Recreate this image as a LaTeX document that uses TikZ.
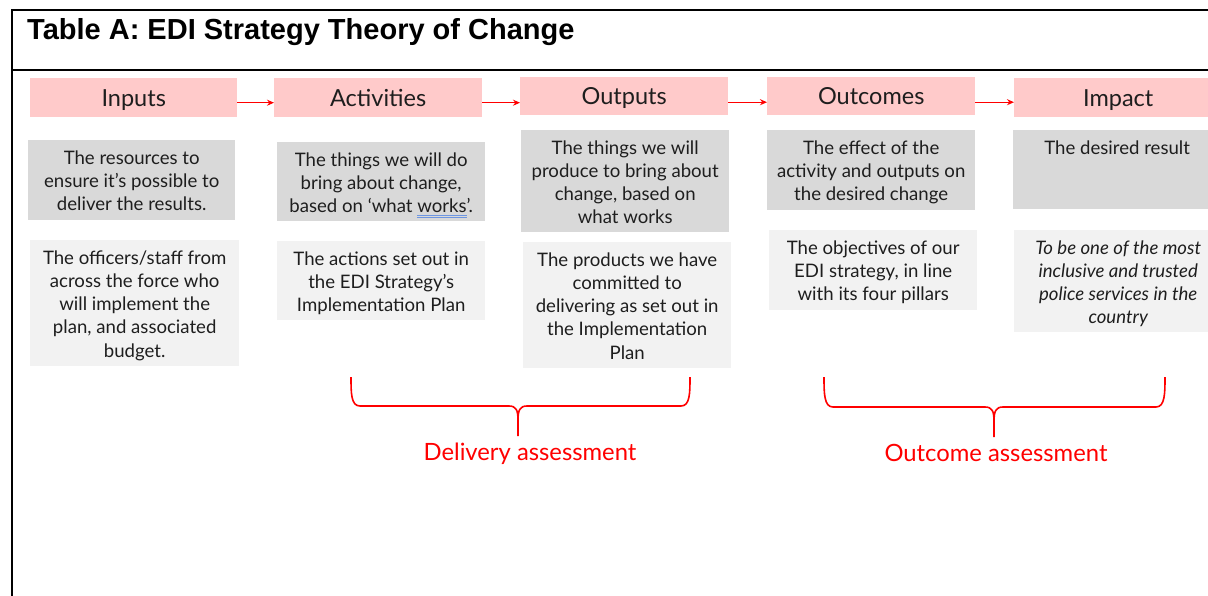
\documentclass[tikz,border=0pt]{standalone}
\usepackage{fontspec}
\setmainfont{Lato}
\newfontfamily\titlefont{Liberation Sans}
\usetikzlibrary{arrows.meta}

\definecolor{hdrpink}{RGB}{255,202,202}
\definecolor{darkcell}{RGB}{217,217,217}
\definecolor{lightcell}{RGB}{242,242,242}
\definecolor{accentred}{RGB}{255,0,0}
\definecolor{ulblue}{RGB}{110,150,225}
\definecolor{inktext}{RGB}{30,30,30}

% top-aligned, centred text block of fixed width and height
\newcommand\cellbox[3]{\parbox[t][#2][t]{#1}{\centering\vspace*{7.8pt}\strut#3\par}}
% word with a thin blue double underline
\newcommand\dblunder[1]{\leavevmode\setbox0\hbox{#1}%
  \rlap{\textcolor{ulblue}{\rule[-3.2pt]{\wd0}{0.6pt}}}%
  \rlap{\textcolor{ulblue}{\rule[-5.0pt]{\wd0}{0.6pt}}}\box0}

\begin{document}
\begin{tikzpicture}[x=1pt,y=-1pt,
  hdr/.style={anchor=north west, fill=hdrpink, inner sep=0pt,
    minimum height=39pt, minimum width=208pt,
    text height=17pt, text depth=0pt,
    font=\fontsize{23.5}{27}\selectfont, text=inktext},
  cell/.style={anchor=north west, inner sep=0pt,
    font=\fontsize{18.6}{23.2}\selectfont, text=inktext},
  dark/.style={cell, fill=darkcell},
  light/.style={cell, fill=lightcell},
  flow/.style={draw=accentred, line width=1.3pt,
    -{Stealth[length=7pt,width=6pt]}},
  bracket/.style={draw=accentred, line width=1.6pt, line join=round},
  assess/.style={text=accentred, anchor=base, inner sep=0pt,
    font=\fontsize{23.8}{28}\selectfont},
  frameline/.style={line width=2.6pt}]

\fill[white] (0,0) rectangle (1208,595);
\useasboundingbox (0,0) rectangle (1208,595);

% table frame
\draw[frameline] (12,597) -- (12,10) -- (1212,10);
\draw[frameline] (12,70) -- (1212,70);

% caption
\node[anchor=base west, inner sep=0pt,
  font={\titlefont\bfseries\fontsize{29}{34}\selectfont}] (title)
  at (27,39) {Table A: EDI Strategy Theory of Change};

% stage headers
\node[hdr, minimum width=207pt] (inH) at (30,78) {Inputs};
\node[hdr] (acH) at (274,78) {Activities};
\node[hdr, minimum height=38pt] (ouH) at (520,77) {Outputs};
\node[hdr, minimum height=38pt] (ocH) at (767,77) {Outcomes};
\node[hdr] (imH) at (1014,78) {Impact};

% horizontal flow arrows between the headers
\draw[flow] ([yshift=-5pt]inH.east) -- ([yshift=-5pt]inH.east -| acH.west);
\draw[flow] ([yshift=-5pt]acH.east) -- ([yshift=-5pt]acH.east -| ouH.west);
\draw[flow] ([yshift=-6pt]ouH.east) -- ([yshift=-6pt]ouH.east -| ocH.west);
\draw[flow] ([yshift=-6pt]ocH.east) -- ([yshift=-6pt]ocH.east -| imH.west);

% definitions
\node[dark] (inD) at (28,140)
  {\cellbox{207pt}{80pt}{The resources to\\ensure it’s possible to\\deliver the results.}};
\node[dark] (acD) at (277,142)
  {\cellbox{208pt}{79pt}{The things we will do\\bring about change,\\based on ‘what \dblunder{works}’.}};
\node[dark] (ouD) at (521,130)
  {\cellbox{208pt}{102pt}{The things we will\\produce to bring about\\change, based on\\what works}};
\node[dark] (ocD) at (767,130)
  {\cellbox{208pt}{80pt}{The effect of the\\activity and outputs on\\the desired change}};
\node[dark] (imD) at (1013,130)
  {\cellbox{208pt}{79pt}{The desired result}};

% specifics
\node[light] (inL) at (30,240)
  {\cellbox{209pt}{126pt}{The officers/staff from\\across the force who\\will implement the\\plan, and associated\\budget.}};
\node[light] (acL) at (277,241)
  {\cellbox{208pt}{79pt}{The actions set out in\\the EDI Strategy’s\\Implementation Plan}};
\node[light] (ouL) at (523,242)
  {\cellbox{208pt}{126pt}{The products we have\\committed to\\delivering as set out in\\the Implementation\\Plan}};
\node[light] (ocL) at (769,230)
  {\cellbox{208pt}{80pt}{The objectives of our\\EDI strategy, in line\\with its four pillars}};
\node[light] (imL) at (1014,230)
  {\cellbox{208pt}{102pt}{\itshape To be one of the most\\inclusive and trusted\\police services in the\\country}};

% assessment braces
\draw[bracket] (351,377) .. controls (351,393) and (351,406) .. (360,406)
  -- (509,406) .. controls (516,406) and (518,410) .. (518,420) -- (518,436);
\draw[bracket] (518,420) .. controls (518,410) and (520,406) .. (527,406)
  -- (681,406) .. controls (690,406) and (690,393) .. (690,377);
\node[assess] (delL) at (530,460) {Delivery assessment};

\draw[bracket] (824,377) .. controls (824,393) and (824,407) .. (833,407)
  -- (985,407) .. controls (992,407) and (994,411) .. (994,421) -- (994,437);
\draw[bracket] (994,421) .. controls (994,411) and (996,407) .. (1003,407)
  -- (1156,407) .. controls (1165,407) and (1165,393) .. (1165,377);
\node[assess] (outL) at (996,461) {Outcome assessment};
\end{tikzpicture}
\end{document}
